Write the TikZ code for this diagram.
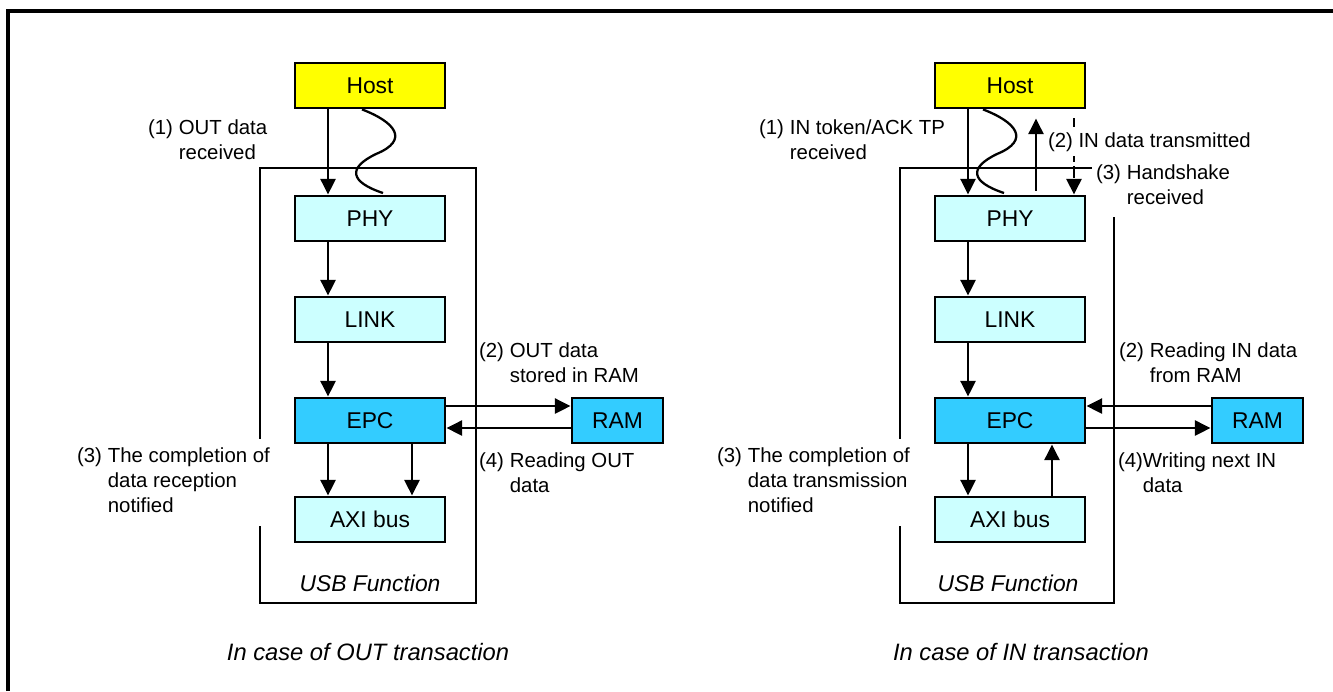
\documentclass[tikz,border=0pt]{standalone}
\usepackage{fontspec}
\setmainfont{Liberation Sans}
\usetikzlibrary{arrows.meta, calc}
\definecolor{hostyellow}{RGB}{255, 255, 0}
\definecolor{usblight}{RGB}{204, 255, 255}
\definecolor{usbdark}{RGB}{51, 204, 255}
\newcommand{\stepnote}[3][3.4pt]{\begin{tabular}[t]{@{}l@{\hspace{#1}}l@{}}#2&#3\end{tabular}}

\begin{document}
\begin{tikzpicture}[x=0.02cm, y=-0.02cm,
      blk/.style={rectangle, draw=black, line width=1.6pt, minimum width=3cm, minimum height=0.9cm, inner sep=0pt, font=\fontsize{13}{15}\selectfont},
      hostblk/.style={blk, fill=hostyellow},
      liteblk/.style={blk, fill=usblight},
      darkblk/.style={blk, fill=usbdark},
      ramblk/.style={darkblk, minimum width=1.82cm},
      lbl/.style={anchor=text, inner xsep=2pt, inner ysep=3pt, font=\fontsize{11.6}{14.5}\selectfont},
      lblw/.style={lbl, fill=white},
      titletext/.style={font=\fontsize{13.5}{16}\selectfont\itshape},
      frm/.style={line width=1.6pt},
      wave/.style={line width=1.3pt},
      arr/.style={-{Triangle[length=9pt, width=8.5pt]}, line width=1.6pt}
    ]
      \useasboundingbox (0,0) rectangle (1333,691);
      \draw[line width=1.8pt] (8,691) |- (1333,11);

      \draw[frm] (260,168) rectangle (476,603);
      \node[hostblk] (hostL) at (370,85.5) {Host};
      \node[liteblk] (phyL) at (370,218.5) {PHY};
      \node[liteblk] (linkL) at (370,319.5) {LINK};
      \node[darkblk] (epcL) at (370,420.5) {EPC};
      \node[liteblk] (axiL) at (370,519.5) {AXI bus};
      \node[ramblk] (ramL) at (617.5,420.5) {RAM};
      \node[titletext, font=\fontsize{13}{15}\selectfont\itshape] (usbL) at (370,583) {USB Function};

      \draw[arr] ([xshift=-0.84cm]hostL.south) -- ([xshift=-0.84cm]phyL.north);
      \draw[arr] ([xshift=-0.84cm]phyL.south) -- ([xshift=-0.84cm]linkL.north);
      \draw[arr] ([xshift=-0.84cm]linkL.south) -- ([xshift=-0.84cm]epcL.north);
      \draw[arr] ([xshift=-0.84cm]epcL.south) -- ([xshift=-0.84cm]axiL.north);
      \draw[arr] ([xshift=0.84cm]epcL.south) -- ([xshift=0.84cm]axiL.north);
      \draw[arr] ([yshift=0.29cm]epcL.east) -- ([yshift=0.29cm]ramL.west);
      \draw[arr] ([yshift=-0.15cm]ramL.west) -- ([yshift=-0.15cm]epcL.east);
      \draw[wave] ([xshift=-0.16cm]hostL.south) .. controls (395,122) and (410,140) .. (376,154)
        .. controls (347,168) and (350,182) .. (383,193);

      \node[lbl] (outRx) at (148,134) {\stepnote{(1)}{OUT data\\&received}};
      \node[lbl] (outStore) at (479,357) {\stepnote{(2)}{OUT data\\&stored in RAM}};
      \node[lbl] (outRead) at (479,467) {\stepnote{(4)}{Reading OUT\\&data}};
      \node[lblw] (outDone) at (77,462) {\stepnote{(3)}{The completion of\\&data reception\\&notified}};
      \node[titletext] (outTitle) at (368,652) {In case of OUT transaction};

      \draw[frm] (900,168) rectangle (1114,603);
      \node[hostblk] (hostR) at (1010,85.5) {Host};
      \node[liteblk] (phyR) at (1010,218.5) {PHY};
      \node[liteblk] (linkR) at (1010,319.5) {LINK};
      \node[darkblk] (epcR) at (1010,420.5) {EPC};
      \node[liteblk] (axiR) at (1010,519.5) {AXI bus};
      \node[ramblk] (ramR) at (1257.5,420.5) {RAM};
      \node[titletext, font=\fontsize{13}{15}\selectfont\itshape] (usbR) at (1008,583) {USB Function};

      \draw[arr] ([xshift=-0.84cm]hostR.south) -- ([xshift=-0.84cm]phyR.north);
      \draw[arr] ([xshift=0.52cm, yshift=0.08cm]phyR.north) -- ([xshift=0.52cm, yshift=-0.18cm]hostR.south);
      \draw[arr, dash pattern=on 7pt off 2pt] ([xshift=1.28cm, yshift=-0.18cm]hostR.south) -- ([xshift=1.28cm]phyR.north);
      \draw[arr] ([xshift=-0.84cm]phyR.south) -- ([xshift=-0.84cm]linkR.north);
      \draw[arr] ([xshift=-0.84cm]linkR.south) -- ([xshift=-0.84cm]epcR.north);
      \draw[arr] ([xshift=-0.84cm]epcR.south) -- ([xshift=-0.84cm]axiR.north);
      \draw[arr] ([xshift=0.84cm]axiR.north) -- ([xshift=0.84cm]epcR.south);
      \draw[arr] ([yshift=0.29cm]ramR.west) -- ([yshift=0.29cm]epcR.east);
      \draw[arr] ([yshift=-0.15cm]epcR.east) -- ([yshift=-0.15cm]ramR.west);
      \draw[wave] ([xshift=-0.54cm]hostR.south) .. controls (1016,122) and (1031,140) .. (997,154)
        .. controls (968,168) and (971,182) .. (1004,193);

      \node[lbl] (inTok) at (759,134) {\stepnote{(1)}{IN token/ACK TP\\&received}};
      \node[lblw] (inTx) at (1048,147) {(2) IN data transmitted};
      \node[lblw] (inHs) at (1096,179) {\stepnote{(3)}{Handshake\\&received}};
      \node[lbl] (inRead) at (1119,357) {\stepnote{(2)}{Reading IN data\\&from RAM}};
      \node[lbl] (inWrite) at (1118,467) {\stepnote[0pt]{(4)}{Writing next IN\\&data}};
      \node[lblw] (inDone) at (717,462) {\stepnote{(3)}{The completion of\\&data transmission\\&notified}};
      \node[titletext] (inTitle) at (1021,652) {In case of IN transaction};
    \end{tikzpicture}
\end{document}
